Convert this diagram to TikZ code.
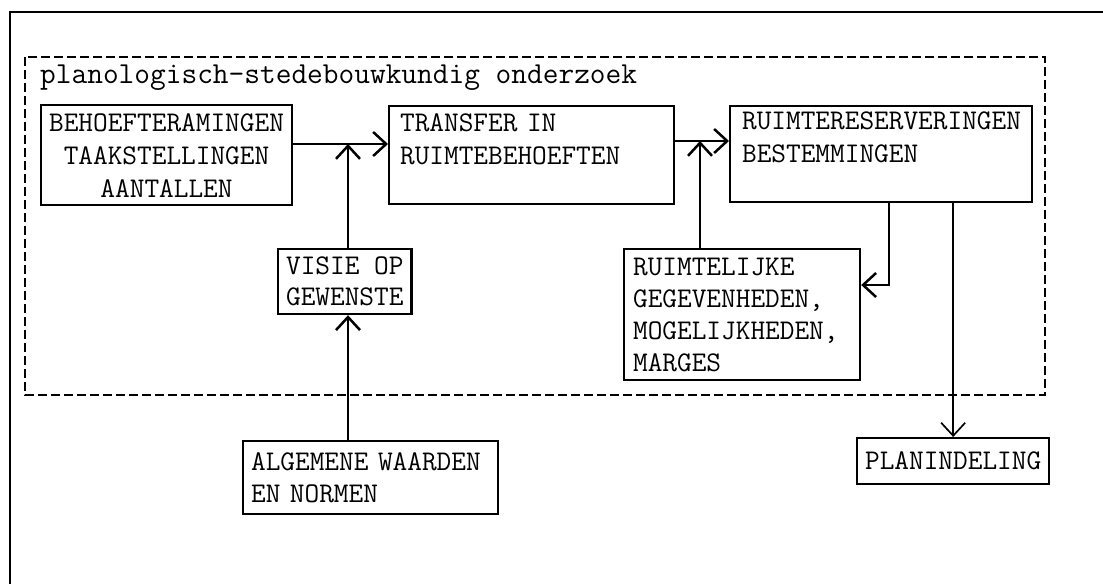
\documentclass[tikz,border=0pt]{standalone}
\usepackage{fontspec}
\usetikzlibrary{arrows.meta}
\begin{document}
\begin{tikzpicture}[x=1pt,y=-1pt,
 box/.style={draw, line width=2.2pt, font=\ttfamily\fontsize{28.5}{33}\selectfont, inner xsep=8pt, inner ysep=0pt, anchor=north west},
 arr/.style={line width=2.5pt, -{Straight Barb[length=13pt,width=24pt]}},
 frameline/.style={line width=2.5pt},
 dashbox/.style={line width=2pt, dash pattern=on 9pt off 4pt}]
\useasboundingbox (0,0) rectangle (1103,584);
\draw[frameline] (1103,12) -- (10,12) -- (10,584);
\draw[dashbox] (25,57) rectangle (1045,395);
\node[anchor=base west, inner sep=0pt, font=\ttfamily\fontsize{30.5}{36}\selectfont] (title) at (40,83) {planologisch-stedebouwkundig onderzoek};

\node[box, minimum width=249pt, minimum height=100pt, align=center] (beh) at (40,104) {BEHOEFTERAMINGEN\\TAAKSTELLINGEN\\AANTALLEN};
\node[box, minimum width=285pt, minimum height=98pt, text width=263pt, align=left] (tr) at (388,105) {TRANSFER IN\\RUIMTEBEHOEFTEN\\\mbox{}};
\node[box, minimum width=302pt, minimum height=96pt, text width=278pt, align=left] (rr) at (729,105) {RUIMTERESERVERINGEN\\BESTEMMINGEN\\\mbox{}};
\node[box, minimum width=126pt, minimum height=65pt, align=center, font=\ttfamily\fontsize{28.5}{31}\selectfont] (visie) at (277,248) {VISIE OP\\GEWENSTE};
\node[box, minimum width=236pt, minimum height=131pt, text width=218pt, align=left, font=\ttfamily\fontsize{28.5}{32}\selectfont] (rl) at (623,248) {RUIMTELIJKE\\GEGEVENHEDEN,\\MOGELIJKHEDEN,\\MARGES};
\node[box, minimum width=253pt, minimum height=73pt, text width=239pt, align=left, font=\ttfamily\fontsize{28.5}{32}\selectfont] (alg) at (242,440) {ALGEMENE WAARDEN\\EN NORMEN};
\node[box, minimum width=191pt, minimum height=46pt, align=center] (plan) at (856,437) {PLANINDELING};

\coordinate (j1) at (348,144);
\coordinate (j2) at (700,141);
\coordinate (j3) at (889,285);

\draw[arr] (beh.east |- j1) -- (tr.west |- j1);
\draw[arr] (visie.north -| j1) -- (j1);
\draw[arr] (alg.north -| j1) -- (visie.south -| j1);
\draw[arr] (tr.east |- j2) -- (rr.west |- j2);
\draw[arr] (rl.north -| j2) -- (j2);
\draw[arr] (rr.south -| j3) -- (j3) -- (rl.east |- j3);
\draw[arr, line width=1.7pt] (rr.south -| plan.north) -- (plan.north);
\end{tikzpicture}
\end{document}
